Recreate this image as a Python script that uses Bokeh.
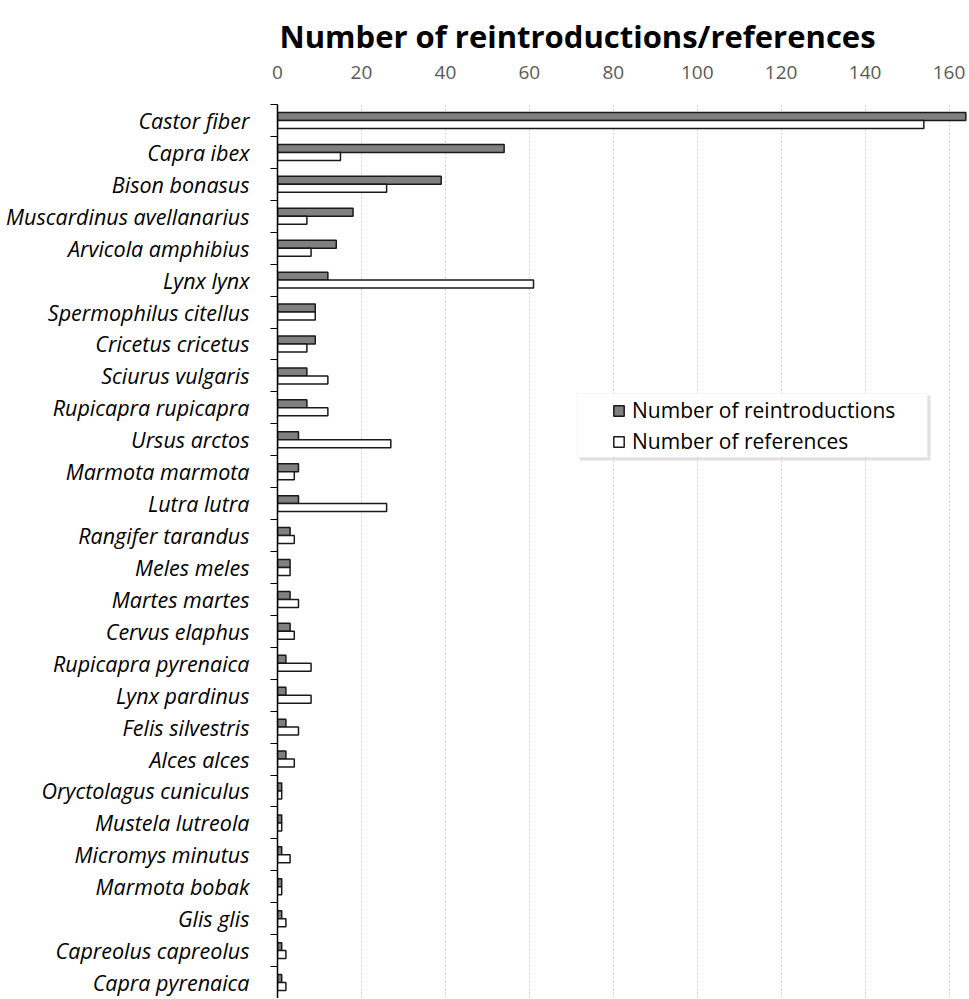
from bokeh.plotting import figure
from bokeh.models import (ColumnDataSource, Range1d, FixedTicker, SingleIntervalTicker,
                          Legend, LegendItem, BoxAnnotation)
from bokeh.transform import dodge
from bokeh.embed import file_html
from bokeh.resources import INLINE

species = ["Castor fiber", "Capra ibex", "Bison bonasus", "Muscardinus avellanarius",
           "Arvicola amphibius", "Lynx lynx", "Spermophilus citellus", "Cricetus cricetus",
           "Sciurus vulgaris", "Rupicapra rupicapra", "Ursus arctos", "Marmota marmota",
           "Lutra lutra", "Rangifer tarandus", "Meles meles", "Martes martes",
           "Cervus elaphus", "Rupicapra pyrenaica", "Lynx pardinus", "Felis silvestris",
           "Alces alces", "Oryctolagus cuniculus", "Mustela lutreola", "Micromys minutus",
           "Marmota bobak", "Glis glis", "Capreolus capreolus", "Capra pyrenaica"]
reintroductions = [164, 54, 39, 18, 14, 12, 9, 9, 7, 7, 5, 5, 5, 3, 3, 3, 3, 2, 2, 2, 2,
                   1, 1, 1, 1, 1, 1, 1]
references = [154, 15, 26, 7, 8, 61, 9, 7, 12, 12, 27, 4, 26, 4, 3, 5, 4, 8, 8, 5, 4,
              1, 1, 3, 1, 2, 2, 2]
x_tick_step = 20
x_max = 164.4

n = len(species)
pos = [n - 1 - i for i in range(n)]
src = ColumnDataSource(dict(pos=pos, species=species, reintro=reintroductions, refs=references))

p = figure(width=967, height=998, output_backend="svg", toolbar_location=None,
           x_range=Range1d(0, x_max), y_range=Range1d(-0.5, n - 0.5),
           x_axis_location="above", min_border_left=277, min_border_right=0,
           min_border_top=104, min_border_bottom=0)
p.outline_line_color = None

r1 = p.hbar(y=dodge("pos", 0.125), left=0, right="reintro", height=0.25, source=src,
            fill_color="#808080", line_color="#1a1a1a", line_width=1.5)
r2 = p.hbar(y=dodge("pos", -0.125), left=0, right="refs", height=0.25, source=src,
            fill_color="white", line_color="#1a1a1a", line_width=1.5)

# title
p.title.text = "Number of reintroductions/references"
p.title.text_font = "Open Sans"
p.title.text_font_style = "bold"
p.title.text_font_size = "31px"
p.title.align = "left"
p.title.offset = 2
p.title.text_color = "#000000"
p.title.standoff = 11

# top x axis
xa = p.xaxis[0]
xa.ticker = SingleIntervalTicker(interval=x_tick_step)
xa.axis_line_color = None
xa.major_tick_line_color = None
xa.minor_tick_line_color = None
xa.major_label_text_font = "Open Sans"
xa.major_label_text_font_size = "19px"
xa.major_label_text_color = "#595959"
xa.major_label_standoff = 20

p.xgrid.ticker = SingleIntervalTicker(interval=x_tick_step)
p.xgrid.grid_line_color = "#d0d0d0"
p.xgrid.grid_line_dash = "2 2"
p.xgrid.grid_line_width = 1
p.ygrid.grid_line_color = None

# left y axis
ya = p.yaxis[0]
ya.ticker = FixedTicker(ticks=pos, minor_ticks=[k - 0.5 for k in range(n + 1)])
ya.major_label_overrides = {pp: s for pp, s in zip(pos, species)}
ya.major_tick_out = 0
ya.major_tick_in = 0
ya.major_tick_line_color = None
ya.minor_tick_out = 7
ya.minor_tick_in = 0
ya.minor_tick_line_color = "#000000"
ya.minor_tick_line_width = 1.2
ya.axis_line_color = "#000000"
ya.axis_line_width = 1.5
ya.major_label_text_font = "Open Sans"
ya.major_label_text_font_style = "italic"
ya.major_label_text_font_size = "21.5px"
ya.major_label_text_color = "#000000"
ya.major_label_standoff = 21

# legend box with soft shadow
shadow = BoxAnnotation(left=302, right=653, bottom=538, top=603,
                       left_units="screen", right_units="screen",
                       bottom_units="screen", top_units="screen",
                       fill_color="#000000", fill_alpha=0.12, line_color=None)
box = BoxAnnotation(left=300, right=650, bottom=541, top=605,
                    left_units="screen", right_units="screen",
                    bottom_units="screen", top_units="screen",
                    fill_color="white", fill_alpha=1.0, line_color="#e0e0e0", line_width=1)
p.add_layout(shadow)
p.add_layout(box)

legend = Legend(items=[LegendItem(label="Number of reintroductions", renderers=[r1]),
                       LegendItem(label="Number of references", renderers=[r2])],
                location=(335, 543), padding=0, margin=0, spacing=3, label_standoff=7,
                glyph_width=13, glyph_height=13, label_height=26,
                background_fill_alpha=0, border_line_color=None,
                label_text_font="Open Sans", label_text_font_size="21px",
                label_text_color="#000000")
p.add_layout(legend)

open("out.html", "w").write(file_html(p, INLINE))
